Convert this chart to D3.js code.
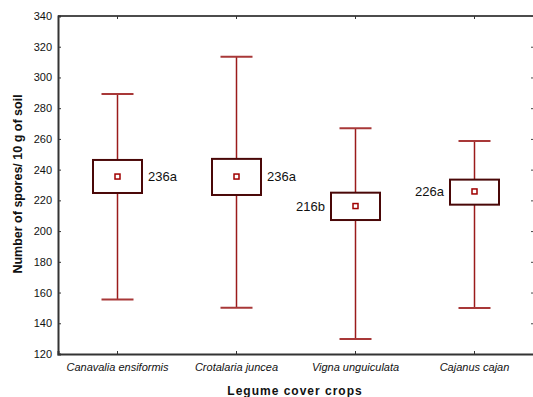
<!DOCTYPE html>
<html>
<head>
<meta charset="utf-8">
<script src="https://cdn.jsdelivr.net/npm/d3@7/dist/d3.min.js"></script>
<style>
  body { margin: 0; background: #fff; }
  svg { display: block; font-family: "Liberation Sans", Arial, sans-serif; }
</style>
</head>
<body>
<svg id="chart" width="533" height="397"></svg>
<script>
// data
var crops = ["Canavalia ensiformis", "Crotalaria juncea", "Vigna unguiculata", "Cajanus cajan"];
var means = [235.5, 235.5, 216.3, 225.8];
var boxLow = [224.8, 223.5, 207.2, 217.2];
var boxHigh = [246.3, 247.0, 225.0, 233.5];
var whiskLow = [155.4, 150.1, 129.8, 150.0];
var whiskHigh = [289.3, 313.4, 267.0, 258.7];
var labels = ["236a", "236a", "216b", "226a"];
var labelSide = ["right", "right", "left", "left"];
var yTicks = [120, 140, 160, 180, 200, 220, 240, 260, 280, 300, 320, 340];

var svg = d3.select("#chart");
var margin = {top: 16, right: -1, bottom: 43, left: 58};
var W = 533, H = 397;
var innerW = W - margin.left - margin.right,
    innerH = H - margin.top - margin.bottom;

var g = svg.append("g").attr("transform", "translate(" + margin.left + "," + margin.top + ")");

var x = d3.scaleBand().domain(crops).range([0, innerW]);
var y = d3.scaleLinear().domain([120, 340]).range([innerH, 0]);

var rows = crops.map(function(c, i) {
    return {name: c, mean: means[i], lo: boxLow[i], hi: boxHigh[i],
            wlo: whiskLow[i], whi: whiskHigh[i], label: labels[i], side: labelSide[i]};
});

// frame: top line, left/bottom axes
g.append("line").attr("x1", 0).attr("x2", innerW + 2).attr("y1", 0).attr("y2", 0)
    .attr("stroke", "#111").attr("stroke-width", 1.5);

var yAxis = g.append("g").call(d3.axisLeft(y).tickValues(yTicks).tickSize(-3).tickPadding(6));
yAxis.select(".domain").attr("stroke", "#333").attr("stroke-width", 2);
yAxis.selectAll(".tick line").attr("stroke", "#333");
yAxis.selectAll("text").attr("font-size", 11).attr("fill", "#111");

// right side: ticks only
var yRight = g.append("g").attr("transform", "translate(" + (innerW - 1) + ",0)")
    .call(d3.axisRight(y).tickValues(yTicks).tickSize(-2).tickFormat(""));
yRight.select(".domain").remove();
yRight.selectAll(".tick line").attr("stroke", "#444");

var xAxis = g.append("g").attr("transform", "translate(0," + innerH + ")")
    .call(d3.axisBottom(x).tickSize(-3).tickPadding(9));
xAxis.select(".domain").attr("stroke", "#333").attr("stroke-width", 2);
xAxis.selectAll(".tick line").attr("stroke", "#333");
xAxis.selectAll("text").attr("font-size", 11).attr("font-style", "italic").attr("fill", "#111");

var xTop = g.append("g").call(d3.axisTop(x).tickSize(-3).tickFormat(""));
xTop.select(".domain").remove();
xTop.selectAll(".tick line").attr("stroke", "#333");

// box plots
var boxW = 49, capW = 32;
var box = g.selectAll(".box").data(rows).enter().append("g")
    .attr("class", "box")
    .attr("transform", function(d) { return "translate(" + (x(d.name) + x.bandwidth() / 2) + ",0)"; });

box.append("line").attr("x1", 0).attr("x2", 0)
    .attr("y1", function(d) { return y(d.whi); }).attr("y2", function(d) { return y(d.hi); })
    .attr("stroke", "#9b1b1b").attr("stroke-width", 1.5);
box.append("line").attr("x1", 0).attr("x2", 0)
    .attr("y1", function(d) { return y(d.lo); }).attr("y2", function(d) { return y(d.wlo); })
    .attr("stroke", "#9b1b1b").attr("stroke-width", 1.5);
box.append("line").attr("x1", -capW / 2).attr("x2", capW / 2)
    .attr("y1", function(d) { return y(d.whi); }).attr("y2", function(d) { return y(d.whi); })
    .attr("stroke", "#a83838").attr("stroke-width", 2);
box.append("line").attr("x1", -capW / 2).attr("x2", capW / 2)
    .attr("y1", function(d) { return y(d.wlo); }).attr("y2", function(d) { return y(d.wlo); })
    .attr("stroke", "#a83838").attr("stroke-width", 2);

box.append("rect").attr("x", -boxW / 2).attr("width", boxW)
    .attr("y", function(d) { return y(d.hi); })
    .attr("height", function(d) { return y(d.lo) - y(d.hi); })
    .attr("fill", "#fff").attr("stroke", "#4a0808").attr("stroke-width", 2);

box.append("rect").attr("x", -2.5).attr("width", 5).attr("height", 5)
    .attr("y", function(d) { return y(d.mean) - 2.5; })
    .attr("fill", "#fff").attr("stroke", "#a00000").attr("stroke-width", 1.5);

box.append("text")
    .attr("x", function(d) { return d.side === "right" ? boxW / 2 + 6 : -boxW / 2 - 6; })
    .attr("y", function(d) { return y(d.mean); })
    .attr("dy", "0.35em")
    .attr("text-anchor", function(d) { return d.side === "right" ? "start" : "end"; })
    .attr("font-size", 13).attr("fill", "#111")
    .text(function(d) { return d.label; });

// axis titles
svg.append("text")
    .attr("x", margin.left + innerW / 2 - 1).attr("y", 395)
    .attr("text-anchor", "middle").attr("font-size", 12).attr("font-weight", "bold")
    .attr("letter-spacing", 1).attr("fill", "#111")
    .text("Legume cover crops");

svg.append("text")
    .attr("transform", "translate(22," + 184 + ") rotate(-90)")
    .attr("text-anchor", "middle").attr("font-size", 12.5).attr("font-weight", "bold")
    .attr("fill", "#111")
    .text("Number of spores/ 10 g of soil");
</script>
</body>
</html>
